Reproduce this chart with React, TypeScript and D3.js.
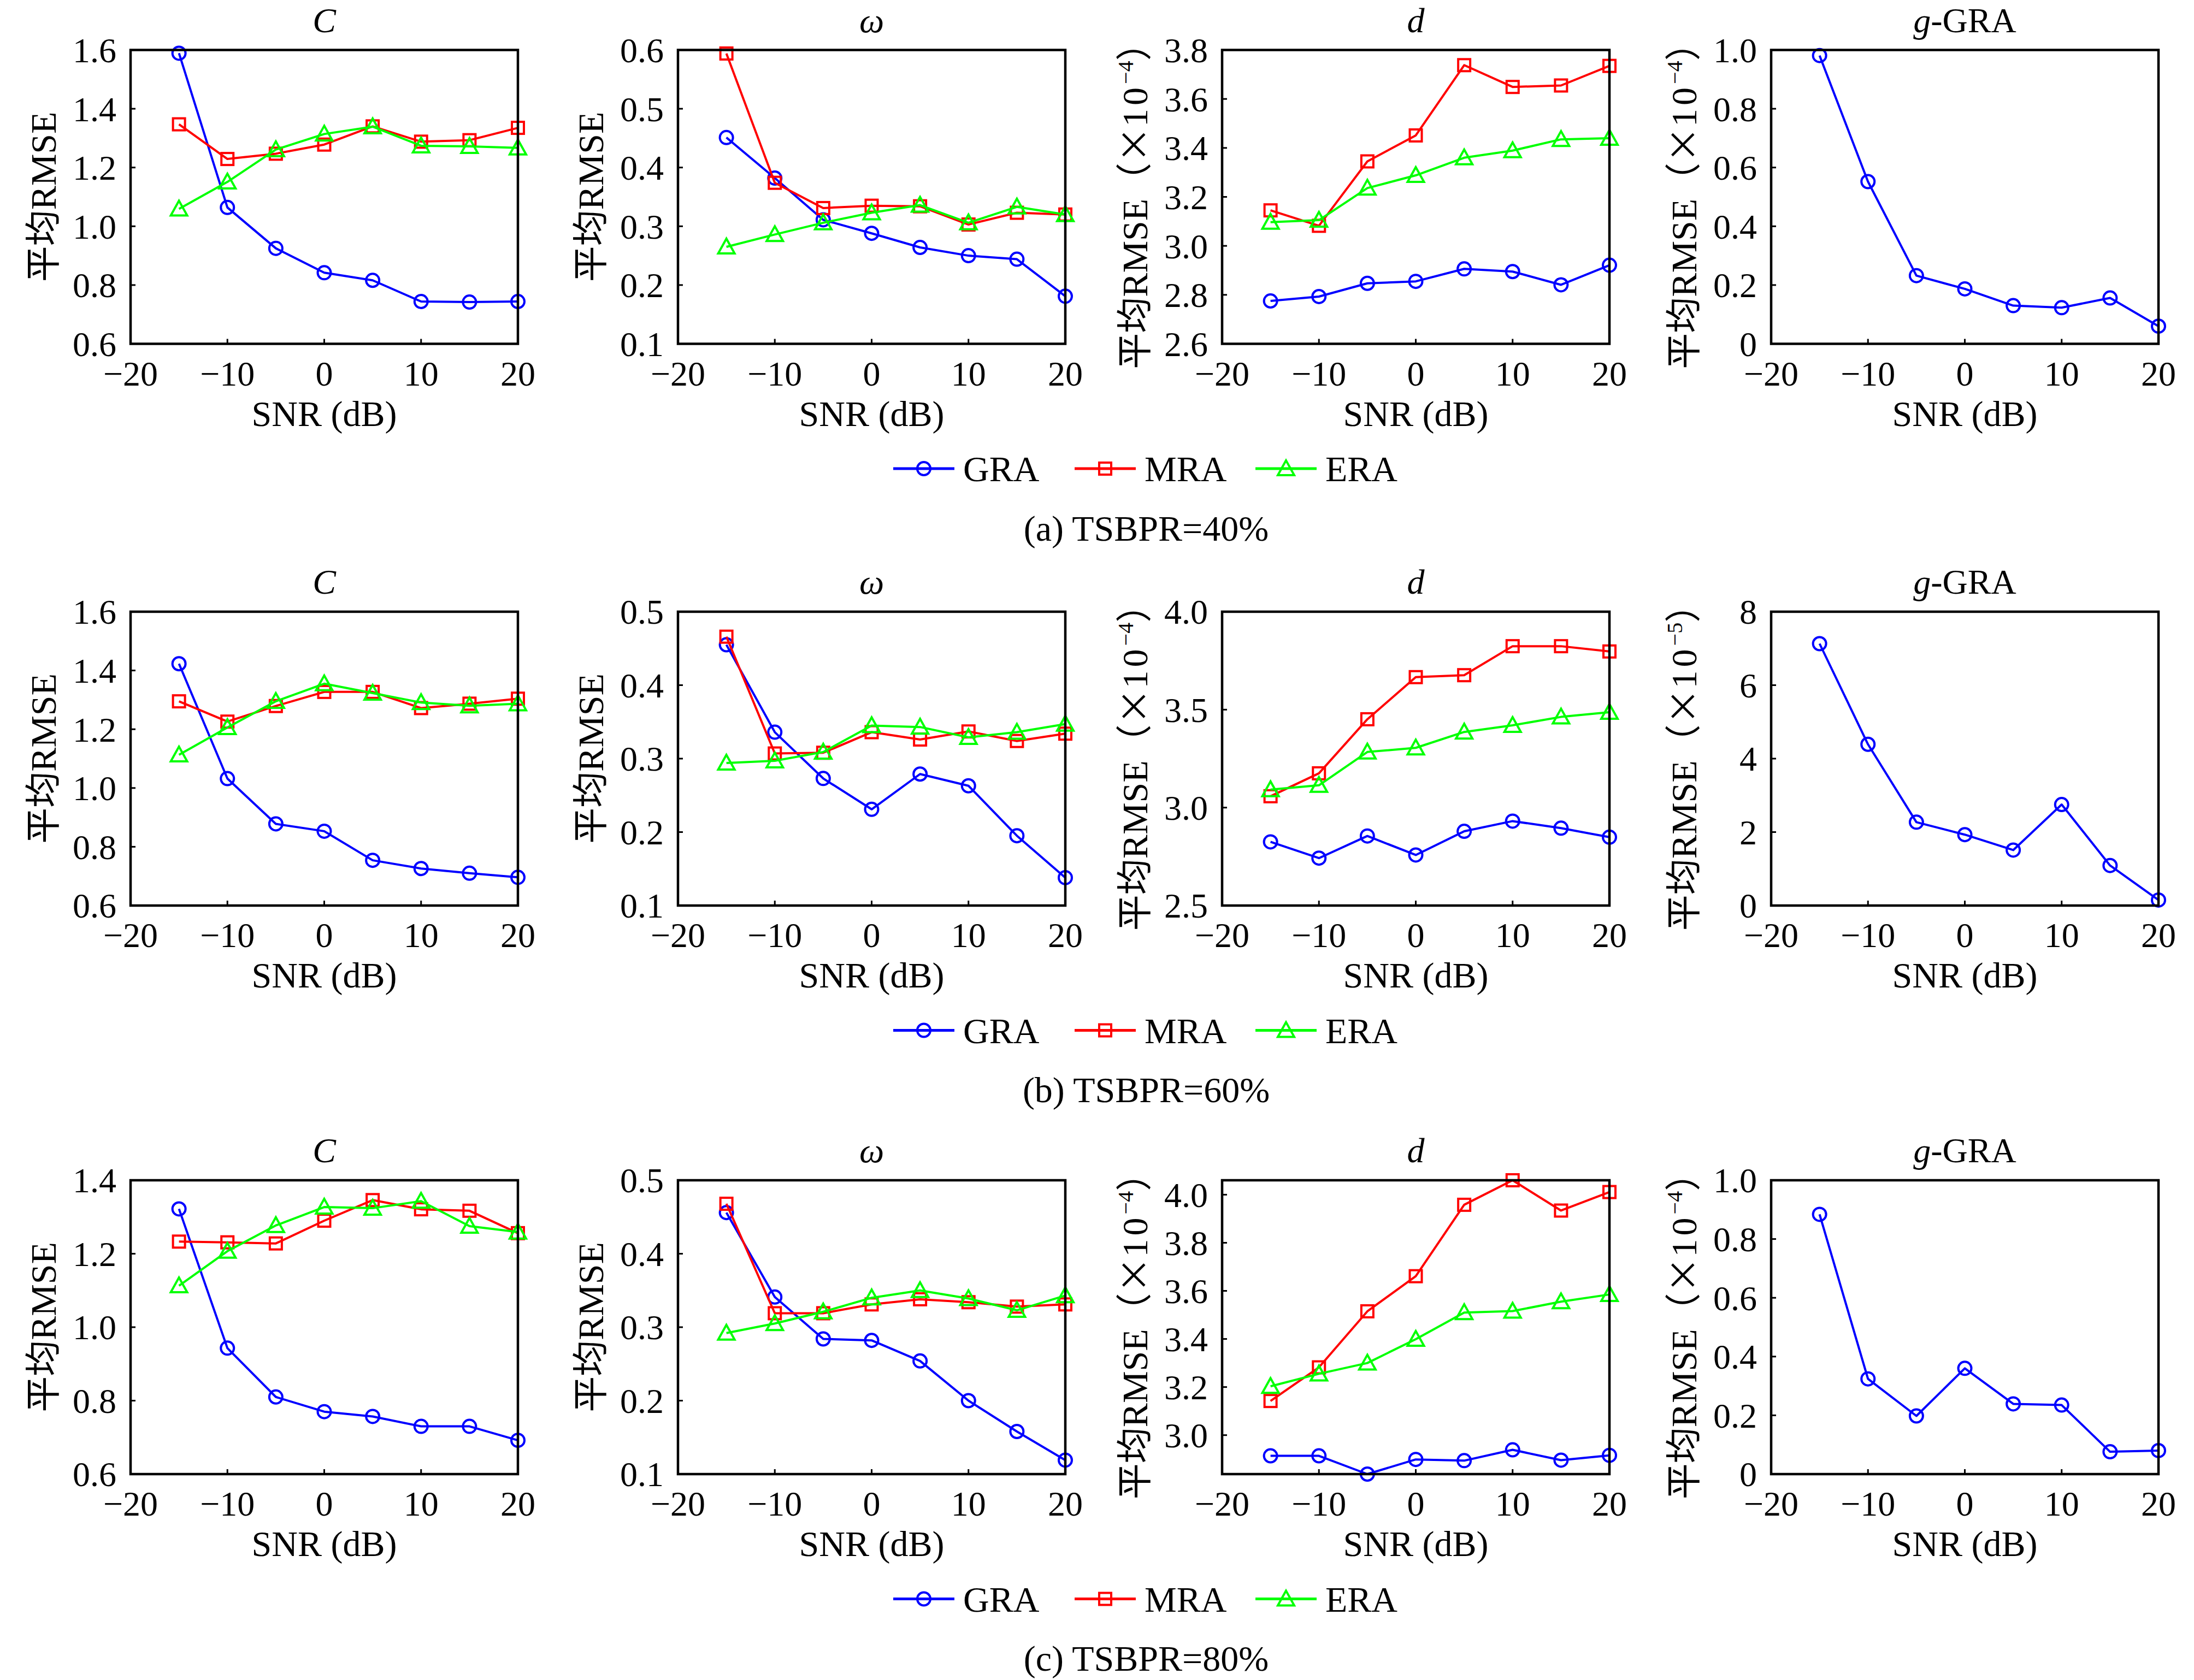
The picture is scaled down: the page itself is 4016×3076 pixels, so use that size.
import React from "react";
import * as d3 from "d3";

// ---------- DATA ----------
const snr = [-15, -10, -5, 0, 5, 10, 15, 20];
const xTicks = [-20, -10, 0, 10, 20];
const seriesNames = ["GRA", "MRA", "ERA"];
const seriesColors = ["#0000ff", "#ff0000", "#00ff00"];
const captions = ["(a) TSBPR=40%", "(b) TSBPR=60%", "(c) TSBPR=80%"];

// (a) TSBPR = 40%
const aC_GRA = [1.589, 1.064, 0.925, 0.842, 0.816, 0.744, 0.742, 0.744];
const aC_MRA = [1.347, 1.229, 1.247, 1.278, 1.34, 1.288, 1.293, 1.335];
const aC_ERA = [1.059, 1.151, 1.261, 1.314, 1.339, 1.274, 1.272, 1.267];
const aW_GRA = [0.451, 0.382, 0.311, 0.288, 0.264, 0.25, 0.244, 0.181];
const aW_MRA = [0.594, 0.374, 0.331, 0.335, 0.334, 0.303, 0.323, 0.32];
const aW_ERA = [0.265, 0.286, 0.306, 0.323, 0.336, 0.306, 0.333, 0.32];
const aD_GRA = [2.775, 2.793, 2.847, 2.855, 2.906, 2.895, 2.841, 2.921];
const aD_MRA = [3.145, 3.082, 3.345, 3.451, 3.738, 3.649, 3.655, 3.735];
const aD_ERA = [3.097, 3.105, 3.236, 3.288, 3.36, 3.389, 3.435, 3.44];
const aG_GRA = [0.981, 0.552, 0.232, 0.187, 0.13, 0.123, 0.156, 0.06];

// (b) TSBPR = 60%
const bC_GRA = [1.423, 1.032, 0.878, 0.853, 0.754, 0.726, 0.71, 0.696];
const bC_MRA = [1.295, 1.226, 1.279, 1.327, 1.327, 1.272, 1.287, 1.304];
const bC_ERA = [1.113, 1.206, 1.295, 1.355, 1.323, 1.291, 1.28, 1.287];
const bW_GRA = [0.455, 0.336, 0.273, 0.231, 0.279, 0.263, 0.195, 0.138];
const bW_MRA = [0.466, 0.307, 0.308, 0.336, 0.326, 0.337, 0.324, 0.334];
const bW_ERA = [0.294, 0.297, 0.309, 0.345, 0.343, 0.329, 0.336, 0.347];
const bD_GRA = [2.825, 2.742, 2.855, 2.758, 2.879, 2.931, 2.895, 2.849];
const bD_MRA = [3.058, 3.175, 3.451, 3.666, 3.676, 3.824, 3.824, 3.797];
const bD_ERA = [3.092, 3.114, 3.284, 3.305, 3.386, 3.42, 3.463, 3.487];
const bG_GRA = [7.13, 4.39, 2.27, 1.93, 1.51, 2.75, 1.09, 0.15];

// (c) TSBPR = 80%
const cC_GRA = [1.322, 0.943, 0.81, 0.77, 0.757, 0.73, 0.73, 0.692];
const cC_MRA = [1.233, 1.231, 1.228, 1.29, 1.346, 1.321, 1.317, 1.256];
const cC_ERA = [1.113, 1.207, 1.277, 1.327, 1.324, 1.343, 1.275, 1.259];
const cW_GRA = [0.456, 0.341, 0.284, 0.282, 0.254, 0.2, 0.158, 0.119];
const cW_MRA = [0.468, 0.319, 0.319, 0.331, 0.338, 0.334, 0.328, 0.331];
const cW_ERA = [0.292, 0.305, 0.321, 0.34, 0.35, 0.339, 0.323, 0.343];
const cD_GRA = [2.914, 2.914, 2.838, 2.899, 2.894, 2.939, 2.896, 2.916];
const cD_MRA = [3.142, 3.282, 3.515, 3.661, 3.958, 4.06, 3.934, 4.011];
const cD_ERA = [3.203, 3.255, 3.3, 3.399, 3.51, 3.516, 3.555, 3.585];
const cG_GRA = [0.884, 0.324, 0.198, 0.36, 0.239, 0.235, 0.076, 0.08];

// axis ranges and tick labels
const aC_dom = [0.6, 1.6], aC_ticks = [0.6, 0.8, 1.0, 1.2, 1.4, 1.6];
const aW_dom = [0.1, 0.6], aW_ticks = [0.1, 0.2, 0.3, 0.4, 0.5, 0.6];
const aD_dom = [2.6, 3.8], aD_ticks = [2.6, 2.8, 3.0, 3.2, 3.4, 3.6, 3.8];
const aG_dom = [0, 1.0], aG_ticks = [0, 0.2, 0.4, 0.6, 0.8, 1.0];
const bC_dom = [0.6, 1.6], bC_ticks = [0.6, 0.8, 1.0, 1.2, 1.4, 1.6];
const bW_dom = [0.1, 0.5], bW_ticks = [0.1, 0.2, 0.3, 0.4, 0.5];
const bD_dom = [2.5, 4.0], bD_ticks = [2.5, 3.0, 3.5, 4.0];
const bG_dom = [0, 8], bG_ticks = [0, 2, 4, 6, 8];
const cC_dom = [0.6, 1.4], cC_ticks = [0.6, 0.8, 1.0, 1.2, 1.4];
const cW_dom = [0.1, 0.5], cW_ticks = [0.1, 0.2, 0.3, 0.4, 0.5];
const cD_dom = [2.838, 4.06], cD_ticks = [3.0, 3.2, 3.4, 3.6, 3.8, 4.0];
const cG_dom = [0, 1.0], cG_ticks = [0, 0.2, 0.4, 0.6, 0.8, 1.0];

// ---------- LAYOUT ----------
const W = 4016;
const H = 3076;
const FONT = "'Liberation Serif', 'Noto Sans CJK SC', serif";
const CJK = "'Noto Sans CJK SC', 'Liberation Serif', sans-serif";
const colX = [239, 1241, 2237, 3242];
const rowY = [91.5, 1120, 2161];
const PW = 709;
const PH = 538;
const TICK_FS = 64;
const LABEL_FS = 66;

type PanelSpec = {
  kind: "C" | "W" | "D" | "G";
  dom: number[];
  ticks: number[];
  fmt: (v: number) => string;
  sup: string | null;
  series: (number[] | null)[];
};

const f1 = (v: number) => d3.format(".1f")(v);
const fG1 = (v: number) => (v === 0 ? "0" : d3.format(".1f")(v));
const fInt = (v: number) => d3.format("d")(v);
const fx = (v: number) => (v < 0 ? "\u2212" + Math.abs(v) : String(v));

const rows: PanelSpec[][] = [
  [
    { kind: "C", dom: aC_dom, ticks: aC_ticks, fmt: f1, sup: null, series: [aC_GRA, aC_MRA, aC_ERA] },
    { kind: "W", dom: aW_dom, ticks: aW_ticks, fmt: f1, sup: null, series: [aW_GRA, aW_MRA, aW_ERA] },
    { kind: "D", dom: aD_dom, ticks: aD_ticks, fmt: f1, sup: "\u22124", series: [aD_GRA, aD_MRA, aD_ERA] },
    { kind: "G", dom: aG_dom, ticks: aG_ticks, fmt: fG1, sup: "\u22124", series: [aG_GRA, null, null] },
  ],
  [
    { kind: "C", dom: bC_dom, ticks: bC_ticks, fmt: f1, sup: null, series: [bC_GRA, bC_MRA, bC_ERA] },
    { kind: "W", dom: bW_dom, ticks: bW_ticks, fmt: f1, sup: null, series: [bW_GRA, bW_MRA, bW_ERA] },
    { kind: "D", dom: bD_dom, ticks: bD_ticks, fmt: f1, sup: "\u22124", series: [bD_GRA, bD_MRA, bD_ERA] },
    { kind: "G", dom: bG_dom, ticks: bG_ticks, fmt: fInt, sup: "\u22125", series: [bG_GRA, null, null] },
  ],
  [
    { kind: "C", dom: cC_dom, ticks: cC_ticks, fmt: f1, sup: null, series: [cC_GRA, cC_MRA, cC_ERA] },
    { kind: "W", dom: cW_dom, ticks: cW_ticks, fmt: f1, sup: null, series: [cW_GRA, cW_MRA, cW_ERA] },
    { kind: "D", dom: cD_dom, ticks: cD_ticks, fmt: f1, sup: "\u22124", series: [cD_GRA, cD_MRA, cD_ERA] },
    { kind: "G", dom: cG_dom, ticks: cG_ticks, fmt: fG1, sup: "\u22124", series: [cG_GRA, null, null] },
  ],
];

function Marker({ idx, x, y, color }: { idx: number; x: number; y: number; color: string }) {
  const sw = 4;
  if (idx === 0) return <circle cx={x} cy={y} r={12} fill="none" stroke={color} strokeWidth={sw} />;
  if (idx === 1)
    return <rect x={x - 11} y={y - 11} width={22} height={22} fill="none" stroke={color} strokeWidth={sw} />;
  const s = 15;
  const pts = `${x},${y - s} ${x - s},${y + s * 0.8} ${x + s},${y + s * 0.8}`;
  return <polygon points={pts} fill="none" stroke={color} strokeWidth={sw} />;
}

function Title({ kind, x, y }: { kind: string; x: number; y: number }) {
  const common = { x, y, textAnchor: "middle" as const, fontFamily: FONT, fontSize: 64 };
  if (kind === "C") return <text {...common} fontStyle="italic">C</text>;
  if (kind === "W") return <text {...common} fontStyle="italic">ω</text>;
  if (kind === "D") return <text {...common} fontStyle="italic">d</text>;
  return (
    <text {...common}>
      <tspan fontStyle="italic">g</tspan>-GRA
    </text>
  );
}

function Panel({ spec, x0, y0 }: { spec: PanelSpec; x0: number; y0: number }) {
  const xs = d3.scaleLinear().domain([-20, 20]).range([x0, x0 + PW]);
  const ys = d3.scaleLinear().domain(spec.dom).range([y0 + PH, y0]);
  const line = d3
    .line<[number, number]>()
    .x((d) => xs(d[0]))
    .y((d) => ys(d[1]));
  const midY = y0 + PH / 2;
  const labX = x0 - 161;
  return (
    <g>
      <Title kind={spec.kind} x={x0 + PW / 2} y={y0 - 33} />
      {spec.series.map((vals, si) => {
        if (!vals) return null;
        const pts = snr.map((s, i) => [s, vals[i]] as [number, number]);
        return (
          <g key={si}>
            <path d={line(pts) || ""} fill="none" stroke={seriesColors[si]} strokeWidth={4} strokeLinejoin="round" />
            {pts.map((p, i) => (
              <Marker key={i} idx={si} x={xs(p[0])} y={ys(p[1])} color={seriesColors[si]} />
            ))}
          </g>
        );
      })}
      <rect x={x0} y={y0} width={PW} height={PH} fill="none" stroke="#000" strokeWidth={4.5} />
      {spec.ticks.map((t, i) => (
        <g key={"y" + i}>
          <line x1={x0} x2={x0 + 9} y1={ys(t)} y2={ys(t)} stroke="#000" strokeWidth={3} />
          <text x={x0 - 26} y={ys(t)} dy="0.35em" textAnchor="end" fontFamily={FONT} fontSize={TICK_FS}>
            {spec.fmt(t)}
          </text>
        </g>
      ))}
      {xTicks.map((t, i) => (
        <g key={"x" + i}>
          <line x1={xs(t)} x2={xs(t)} y1={y0 + PH} y2={y0 + PH - 9} stroke="#000" strokeWidth={3} />
          <text x={xs(t)} y={y0 + PH + 76} textAnchor="middle" fontFamily={FONT} fontSize={TICK_FS}>
            {fx(t)}
          </text>
        </g>
      ))}
      <text x={x0 + PW / 2} y={y0 + PH + 150} textAnchor="middle" fontFamily={FONT} fontSize={LABEL_FS}>
        SNR (dB)
      </text>
      <text
        transform={`translate(${labX},${midY}) rotate(-90)`}
        textAnchor="middle"
        dy="0.36em"
        fontFamily={FONT}
        fontSize={LABEL_FS}
      >
        <tspan fontFamily={CJK}>平均</tspan>
        <tspan>RMSE</tspan>
        {spec.sup ? (
          <>
            <tspan fontFamily={CJK}>（×</tspan>
            <tspan letterSpacing={6}>10</tspan>
            <tspan dy={-26} fontSize={40}>
              {spec.sup}
            </tspan>
            <tspan dy={26} fontFamily={CJK}>
              ）
            </tspan>
          </>
        ) : null}
      </text>
    </g>
  );
}

function Legend({ cy }: { cy: number }) {
  const lineX = [1635, 1967, 2298];
  return (
    <g>
      {seriesNames.map((n, i) => (
        <g key={n}>
          <line x1={lineX[i]} x2={lineX[i] + 112} y1={cy} y2={cy} stroke={seriesColors[i]} strokeWidth={5} />
          <Marker idx={i} x={lineX[i] + 56} y={cy} color={seriesColors[i]} />
          <text x={lineX[i] + 128} y={cy} dy="0.35em" fontFamily={FONT} fontSize={LABEL_FS}>
            {n}
          </text>
        </g>
      ))}
    </g>
  );
}

export default function App() {
  return (
    <svg
      width={W}
      height={H}
      viewBox={`0 0 ${W} ${H}`}
      style={{ position: "absolute", left: 0, top: 0, background: "#fff" }}
    >
      <rect x={0} y={0} width={W} height={H} fill="#fff" />
      {rows.map((row, ri) => (
        <g key={ri}>
          {row.map((spec, ci) => (
            <Panel key={ci} spec={spec} x0={colX[ci]} y0={rowY[ri]} />
          ))}
          <Legend cy={rowY[ri] + 766.5} />
          <text
            x={2098}
            y={rowY[ri] + 875}
            dy="0.35em"
            textAnchor="middle"
            fontFamily={FONT}
            fontSize={LABEL_FS}
          >
            {captions[ri]}
          </text>
        </g>
      ))}
    </svg>
  );
}
